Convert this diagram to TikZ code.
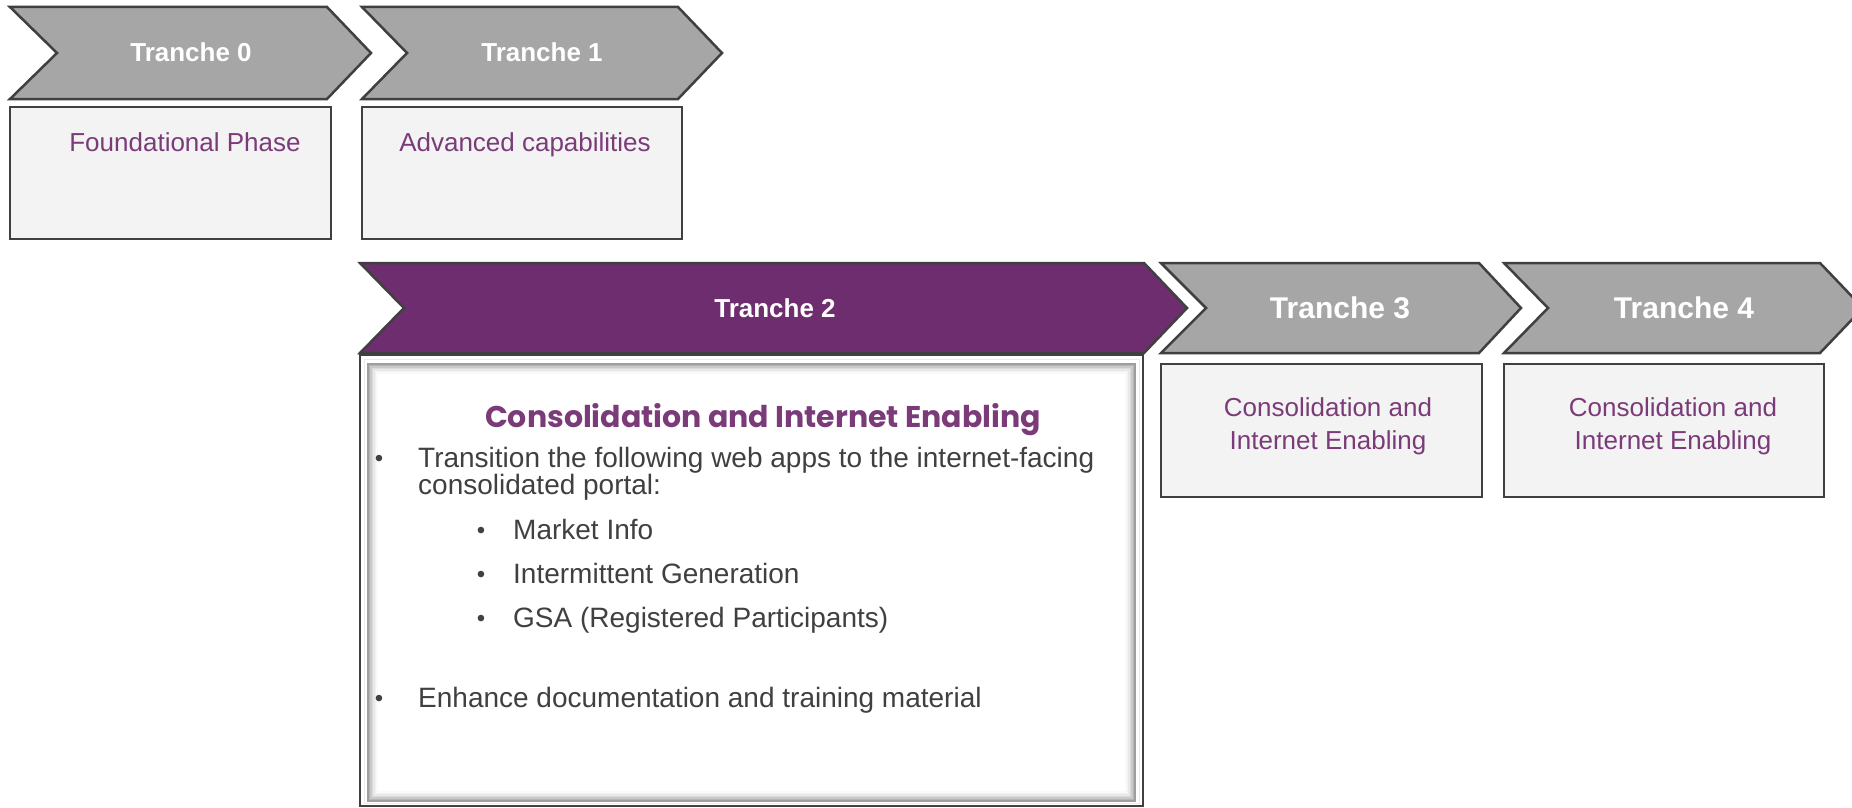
\documentclass[tikz,border=0pt]{standalone}
\usepackage{fontspec}
\setmainfont{Liberation Sans}
\newfontfamily\titlefont{Poppins}
\definecolor{chevgray}{HTML}{A6A6A6}
\definecolor{edgegray}{HTML}{404040}
\definecolor{boxfill}{HTML}{F3F3F3}
\definecolor{purp}{HTML}{6E2D6F}
\definecolor{purptext}{HTML}{7B3B79}
\definecolor{bodytext}{HTML}{404040}
\begin{document}
\begin{tikzpicture}[x=1pt,y=-1pt,
  chev/.style={fill=chevgray,draw=edgegray,line width=2.5pt,line join=miter},
  chevp/.style={chev,fill=purp},
  infobox/.style={fill=boxfill,draw=edgegray,line width=2.5pt},
  tlabel/.style={text=white,font=\bfseries\fontsize{26}{30}\selectfont,anchor=base,inner sep=0pt},
  tlabelbig/.style={tlabel,font=\bfseries\fontsize{30}{34}\selectfont},
  boxtext/.style={text=purptext,font=\fontsize{26}{31}\selectfont,anchor=base,inner sep=0pt},
  bodyt/.style={text=bodytext,font=\fontsize{28}{27}\selectfont,anchor=base west,inner sep=0pt},
  bul/.style={text=bodytext,font=\fontsize{24}{27}\selectfont,anchor=base,inner sep=0pt}]
\path[use as bounding box,clip] (0,0) rectangle (1852,808);
\fill[white] (0,0) rectangle (1852,808);
% chevrons
\draw[chev]  (10,7) -- (327,7) -- (371,53) -- (327,99) -- (10,99) -- (57,53) -- cycle;
\draw[chev]  (362,7) -- (678,7) -- (722,53) -- (678,99) -- (362,99) -- (407,53) -- cycle;
\draw[chevp] (360,263) -- (1144,263) -- (1187,308) -- (1144,353) -- (360,353) -- (404,308) -- cycle;
\draw[chev]  (1161,263) -- (1479,263) -- (1521,308) -- (1479,353) -- (1161,353) -- (1206,308) -- cycle;
\draw[chev]  (1504,263) -- (1820,263) -- (1863,308) -- (1820,353) -- (1504,353) -- (1548,308) -- cycle;
\node[tlabel] (t0) at (191,62) {Tranche 0};
\node[tlabel] (t1) at (542,62) {Tranche 1};
\node[tlabel] (t2) at (775,317) {Tranche 2};
\node[tlabelbig] (t3) at (1340,318) {Tranche 3};
\node[tlabelbig] (t4) at (1684,318) {Tranche 4};
% small boxes
\draw[infobox] (10,107) rectangle (331,239);
\draw[infobox] (362,107) rectangle (682,239);
\draw[infobox] (1161,364) rectangle (1482,497);
\draw[infobox] (1504,364) rectangle (1824,497);
\node[boxtext] (b0) at (185,151) {Foundational Phase};
\node[boxtext] (b1) at (525,151) {Advanced capabilities};
\node[boxtext] (b3a) at (1328,416) {Consolidation and};
\node[boxtext] (b3b) at (1328,449) {Internet Enabling};
\node[boxtext] (b4a) at (1673,416) {Consolidation and};
\node[boxtext] (b4b) at (1673,449) {Internet Enabling};
% big box
\draw[fill=white,draw=edgegray,line width=2.5pt] (360,355) rectangle (1143,806);
\draw[black!8,line width=1pt] (364,359) rectangle (1139,803);
\foreach \i/\c in {0/38,1/29,2/21,3/14,4/9,5/5,6/2}
  \draw[black!\c,line width=1.5pt] ({368+\i*1.5},{364+\i*1.5}) rectangle ({1135-\i*1.5},{801-\i*1.5});
\node[text=purptext,font=\titlefont\bfseries\fontsize{30}{36}\selectfont,anchor=base,inner sep=0pt] (title) at (763,427) {Consolidation and Internet Enabling};
\node[bul] (u1) at (379,466) {•};
\node[bodyt] (l1a) at (418,467) {Transition the following web apps to the internet-facing};
\node[bodyt] (l1b) at (418,494) {consolidated portal:};
\node[bul] (u2) at (481,538) {•};
\node[bodyt] (l2) at (513,539) {Market Info};
\node[bul] (u3) at (481,582) {•};
\node[bodyt] (l3) at (513,583) {Intermittent Generation};
\node[bul] (u4) at (481,626) {•};
\node[bodyt] (l4) at (513,627) {GSA (Registered Participants)};
\node[bul] (u5) at (379,706) {•};
\node[bodyt] (l5) at (418,707) {Enhance documentation and training material};
\end{tikzpicture}
\end{document}
